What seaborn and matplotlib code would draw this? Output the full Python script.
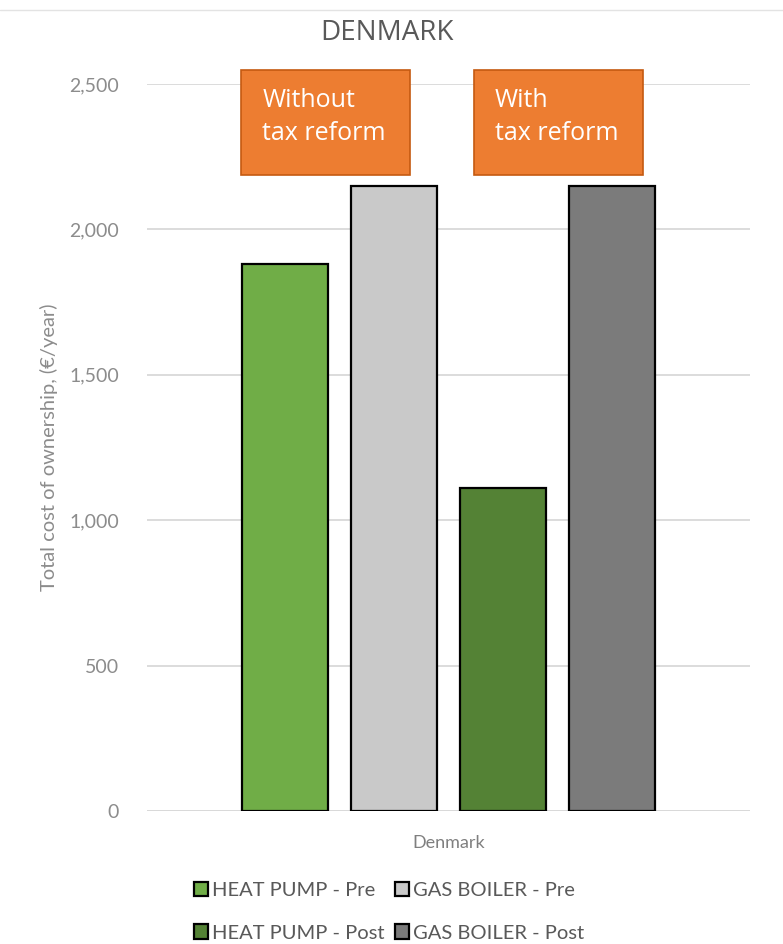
import matplotlib

matplotlib.use("Agg")
import matplotlib.pyplot as plt
import pandas as pd
import seaborn as sns
from matplotlib.patches import Rectangle
from matplotlib.lines import Line2D

COUNTRY = ["Denmark"] * 4
SERIES = ["HEAT PUMP - Pre", "GAS BOILER - Pre", "HEAT PUMP - Post", "GAS BOILER - Post"]
COST = [1880, 2150, 1110, 2150]
COLORS = ["#70AD47", "#C9C9C9", "#548235", "#7B7B7B"]
Y_TICKS = [0, 500, 1000, 1500, 2000, 2500]
BOX_TEXT = ["Without\ntax reform", "With\ntax reform"]

df = pd.DataFrame({"country": COUNTRY, "series": SERIES, "cost": COST})

sns.set_theme(style="white")
plt.rcParams["font.family"] = ["Lato", "DejaVu Sans"]

fig = plt.figure(figsize=(7.83, 9.44), dpi=100)
ax = fig.add_axes([0.1877, 0.1409, 0.7702, 0.7701])

sns.barplot(
    data=df, x="country", y="cost", hue="series", hue_order=SERIES,
    palette=COLORS, width=0.723, gap=0.21, edgecolor="black", linewidth=1.6,
    saturation=1, ax=ax, legend=True, zorder=3,
)

ax.set_ylim(0, 2500)
ax.set_xlim(-0.5, 0.5)
ax.set_yticks(Y_TICKS)
ax.set_yticklabels([f"{v:,}" for v in Y_TICKS])
ax.yaxis.grid(True, color="#D9D9D9", linewidth=1.3, zorder=0)
ax.set_axisbelow(True)
for side in ["top", "right", "left", "bottom"]:
    ax.spines[side].set_visible(False)
ax.axhline(0, color="#D9D9D9", linewidth=1.3, zorder=1)
ax.tick_params(axis="y", length=0, labelsize=14, labelcolor="#8C8C8C", pad=20)
ax.tick_params(axis="x", length=0, pad=17, labelsize=13, labelcolor="#7F7F7F")
ax.set_xlabel("")
ax.set_ylabel("Total cost of ownership, (€/year)", fontsize=14.5, color="#8C8C8C",
              labelpad=8)

# orange annotation boxes
bars = ax.patches[:4]
for i, label in enumerate(BOX_TEXT):
    if i == 0:
        x0 = bars[0].get_x() - 0.001
    else:
        x0 = bars[2].get_x() + 0.023
    x1 = x0 + 0.28
    rect = Rectangle((x0, 2187), x1 - x0, 361, transform=ax.transData,
                     facecolor="#ED7D31", edgecolor="#C55A11", linewidth=1.2,
                     clip_on=False, zorder=5)
    ax.add_patch(rect)
    ax.text(x0 + 0.035, 2485, label, fontsize=18, color="white", va="top",
            ha="left", family=["Open Sans", "DejaVu Sans"], zorder=6,
            linespacing=1.38, clip_on=False)

fig.text(0.494, 0.965, "DENMARK", ha="center", va="center", fontsize=20,
         color="#595959", family=["Open Sans", "DejaVu Sans"])
fig.add_artist(Line2D([0.0, 1.0], [0.989, 0.989], color="#E3E3E3", linewidth=1))

handles, labels = ax.get_legend_handles_labels()
ax.get_legend().remove()
order = [0, 2, 1, 3]
leg = fig.legend(
    [handles[i] for i in order], [labels[i] for i in order],
    loc="center", bbox_to_anchor=(0.497, 0.034), ncol=2, frameon=False,
    fontsize=14.5, handlelength=0.7, handleheight=0.7, handletextpad=0.2,
    columnspacing=0.5, labelspacing=1.25, labelcolor="#595959",
)

fig.savefig("out.png", dpi=100)
